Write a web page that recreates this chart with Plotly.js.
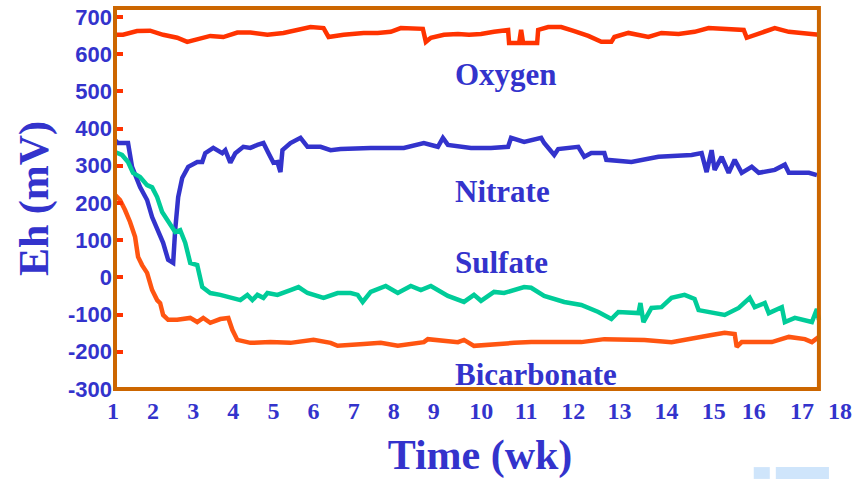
<!DOCTYPE html>
<html>
<head>
<meta charset="utf-8">
<script src="https://cdn.plot.ly/plotly-3.0.1.min.js"></script>
<style>html,body{margin:0;padding:0;background:#fff;}#chart{width:857px;height:479px;}</style>
</head>
<body>
<div id="chart"></div>
<script>
// ---- data (time in weeks, Eh in mV) ----
var oxygenT = [1.05,1.25,1.6,1.925,2.25,2.6,2.85,3.1,3.425,3.75,4.1,4.425,4.85,5.25,5.6,5.925,6.25,6.375,6.75,7.25,7.6,7.925,8.175,8.725,8.8,8.925,9.25,9.6,9.875,10.175,10.5,10.85,10.875,11.125,11.175,11.225,11.575,11.6,11.85,12.175,12.5,12.85,13.175,13.425,13.5,13.85,14.35,14.675,15.1,15.5,15.85,16.35,16.725,16.8,17.0,17.5,17.85,18.175,18.5,18.6];
var oxygenEh = [652,652,662,663,652,644,633,641,649,646,658,658,652,657,665,673,670,646,652,657,657,660,670,668,633,644,652,654,652,654,660,665,630,630,665,630,630,665,673,673,662,649,633,633,646,657,646,657,654,660,670,668,665,644,652,670,660,657,652,652];

var nitrateT = [1.05,1.125,1.375,1.475,1.675,1.85,1.975,2.125,2.25,2.375,2.5,2.55,2.625,2.725,2.875,3.1,3.225,3.3,3.5,3.725,3.8,3.925,4.05,4.25,4.425,4.6,4.75,4.875,5.0,5.1,5.175,5.225,5.425,5.675,5.85,6.175,6.425,6.675,7.425,8.25,8.75,9.1,9.225,9.35,9.925,10.425,10.85,10.925,11.25,11.675,11.75,12.0,12.1,12.6,12.75,12.925,13.25,13.3,13.925,14.6,15.425,15.675,15.8,15.925,16.0,16.175,16.35,16.5,16.675,16.925,17.1,17.5,17.75,17.85,18.35,18.55];
var nitrateEh = [369,361,361,297,243,208,162,127,93,47,39,127,216,267,297,310,310,334,348,334,342,308,334,351,348,356,361,334,308,310,283,342,361,375,351,351,342,345,348,348,361,351,375,356,348,348,351,375,364,375,361,329,345,351,324,334,334,316,310,324,329,334,283,342,289,324,281,316,281,297,281,289,303,281,281,275];

var sulfateT = [1.05,1.225,1.375,1.5,1.675,1.85,1.975,2.1,2.225,2.375,2.55,2.675,2.8,2.925,3.1,3.225,3.425,3.675,3.925,4.175,4.35,4.475,4.6,4.75,4.85,5.1,5.425,5.625,5.85,6.175,6.25,6.6,6.925,7.1,7.225,7.425,7.8,8.1,8.425,8.675,8.925,9.35,9.75,10.0,10.175,10.5,10.75,11.25,11.425,11.75,12.25,12.675,13.1,13.425,13.6,14.1,14.15,14.225,14.425,14.675,14.925,15.25,15.5,15.6,15.925,16.25,16.6,16.875,17.0,17.25,17.35,17.675,17.75,18.0,18.425,18.55,18.6];
var sulfateEh = [337,329,310,281,270,248,242,216,176,149,122,127,93,39,33,-26,-42,-47,-55,-61,-47,-61,-47,-55,-42,-47,-34,-26,-42,-53,-55,-42,-42,-47,-66,-39,-23,-42,-23,-34,-23,-50,-66,-47,-63,-39,-42,-26,-28,-50,-66,-74,-93,-112,-93,-96,-69,-120,-82,-80,-55,-47,-58,-88,-93,-101,-82,-55,-80,-69,-96,-80,-120,-109,-120,-85,-114];

var bicarbT = [1.05,1.175,1.3,1.425,1.55,1.625,1.725,1.85,1.975,2.1,2.175,2.25,2.375,2.6,2.925,3.1,3.25,3.425,3.675,3.875,3.975,4.1,4.425,4.925,5.425,6.0,6.425,6.6,7.25,7.675,8.1,8.75,8.85,9.6,9.75,10.0,11.0,11.425,12.25,12.675,13.25,14.25,14.925,15.425,15.925,16.25,16.5,16.55,16.675,17.425,17.85,18.25,18.425,18.6];
var bicarbEh = [222,208,181,149,109,55,33,12,-34,-61,-69,-101,-114,-114,-109,-120,-109,-122,-112,-109,-141,-168,-176,-174,-176,-168,-176,-184,-179,-176,-184,-174,-166,-174,-168,-184,-176,-174,-174,-174,-166,-168,-174,-163,-155,-149,-152,-187,-174,-174,-160,-166,-174,-160];

var seriesNames = ["Oxygen", "Nitrate", "Sulfate", "Bicarbonate"];
var labelT = [9.475, 9.475, 9.475, 9.475];
var labelEh = [544, 230, 41, -262];

var yTickVals = [-300,-200,-100,0,100,200,300,400,500,600,700];
var yTickText = ["-300","-200","-100","0","100","200","300","400","500","600","700"];
var xTickLabels = ["1","2","3","4","5","6","7","8","9","10","11","12","13","14","15","16","17","18"];
var xTickPos = [1,2,3,4,5,6,7,8,9,10.18,11.3,12.475,13.625,14.8,15.975,16.975,18.175,19.125];

// ---- chart ----
var blue = "#3333cc";
var serif = "Liberation Serif, Times New Roman, serif";
var sans = "Liberation Sans, Arial, sans-serif";

function tr(x, y, color, name) {
  return {x: x, y: y, type: "scatter", mode: "lines", name: name,
          line: {color: color, width: 4.5}, hoverinfo: "skip"};
}
var data = [
  tr(oxygenT, oxygenEh, "#ff3300", seriesNames[0]),
  tr(nitrateT, nitrateEh, "#3333cc", seriesNames[1]),
  tr(sulfateT, sulfateEh, "#00cc99", seriesNames[2]),
  tr(bicarbT, bicarbEh, "#ff5511", seriesNames[3])
];

var annotations = seriesNames.map(function (n, i) {
  return {x: labelT[i], y: labelEh[i], xref: "x", yref: "y", text: "<b>" + n + "</b>",
          showarrow: false, xanchor: "left", yanchor: "middle",
          font: {family: serif, size: 31, color: blue}};
});

var layout = {
  width: 857, height: 479,
  margin: {l: 113, r: 10, t: 8, b: 90},
  paper_bgcolor: "#ffffff", plot_bgcolor: "#ffffff",
  showlegend: false,
  xaxis: {
    range: [1.0, 19.3], showgrid: false, zeroline: false, showline: false,
    ticks: "", tickmode: "array", tickvals: xTickPos, ticktext: xTickLabels,
    ticklabelstandoff: 5,
    tickfont: {family: serif, size: 24, color: blue, weight: "bold"},
    title: {text: "<b>Time (wk)</b>", font: {family: serif, size: 42, color: blue}, standoff: 16}
  },
  yaxis: {
    range: [-300, 724], showgrid: false, zeroline: false, showline: false,
    ticks: "inside", ticklen: 10, tickwidth: 4, tickcolor: "#ff3300",
    tickmode: "array", tickvals: yTickVals, ticktext: yTickText,
    tickfont: {family: sans, size: 22, color: blue, weight: "bold"},
    title: {text: "<b>Eh (mV)</b>", font: {family: serif, size: 42, color: blue}, standoff: 6}
  },
  shapes: [
    {type: "rect", xref: "x", yref: "paper", x0: 1.05, x1: 18.6, y0: 0, y1: 1,
     line: {color: "#cc6600", width: 4}, layer: "above"},
    {type: "rect", xref: "x", yref: "paper", x0: 16.975, x1: 17.375, y0: -0.236, y1: -0.205,
     line: {width: 0}, fillcolor: "#cfe5fb"},
    {type: "rect", xref: "x", yref: "paper", x0: 17.525, x1: 18.85, y0: -0.236, y1: -0.205,
     line: {width: 0}, fillcolor: "#cfe5fb"}
  ],
  annotations: annotations
};

Plotly.newPlot("chart", data, layout, {displayModeBar: false, staticPlot: true});
</script>
</body>
</html>
